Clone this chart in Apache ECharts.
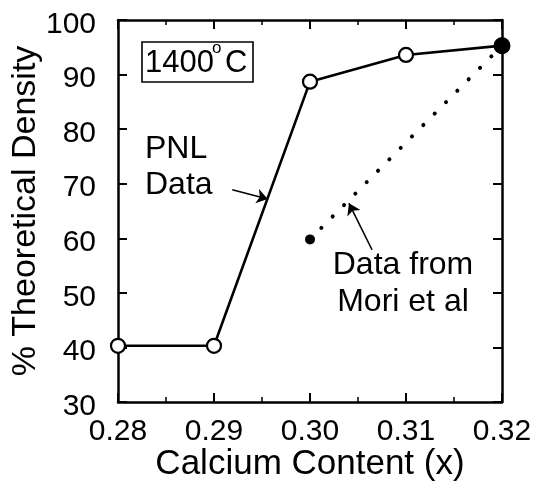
<!DOCTYPE html>
<html>
<head>
<meta charset="utf-8">
<script src="https://cdn.jsdelivr.net/npm/echarts@6/dist/echarts.min.js"></script>
<style>html,body{margin:0;padding:0;background:#fff;}#c{width:539px;height:481px;}</style>
</head>
<body>
<div id="c"></div>
<script>
// Data
const pnlX = [0.28, 0.29, 0.30, 0.31, 0.32];
const pnlY = [40.3, 40.3, 88.7, 93.6, 95.3];
const moriX = [0.30, 0.32];
const moriY = [59.8, 95.3];
const xTicks = [0.28, 0.29, 0.30, 0.31, 0.32];
const yTicks = [30, 40, 50, 60, 70, 80, 90, 100];
// Annotation arrows (data coordinates): [from, to]
const pnlArrow = [[0.2919, 68.9], [0.2956, 67.2]];
const moriArrow = [[0.30646, 57.9], [0.30406, 66.4]];

const FONT = 'Liberation Sans, Arial, Helvetica, sans-serif';
const chart = echarts.init(document.getElementById('c'), null, {renderer: 'canvas'});

const axisLine = {show: true, lineStyle: {color: '#000', width: 2.5}};
function xAx(pos, labels) {
  return {
    type: 'value', position: pos, min: xTicks[0], max: xTicks[xTicks.length - 1], interval: 0.01,
    axisLine: axisLine,
    axisTick: {show: true, inside: true, length: 9, lineStyle: {color: '#000', width: 2}},
    minorTick: {show: true, splitNumber: 2, length: 5, lineStyle: {color: '#000', width: 1.5}},
    splitLine: {show: false},
    axisLabel: labels ? {show: true, margin: 15, color: '#000', fontSize: 30, fontFamily: FONT,
      formatter: v => v.toFixed(2)} : {show: false},
    name: labels ? 'Calcium Content (x)' : '',
    nameLocation: 'middle', nameGap: 45, nameMoveOverlap: false,
    nameTextStyle: {color: '#000', fontSize: 35, fontFamily: FONT}
  };
}
function yAx(pos, labels) {
  return {
    type: 'value', position: pos, min: yTicks[0], max: yTicks[yTicks.length - 1], interval: 10,
    axisLine: axisLine,
    axisTick: {show: true, inside: true, length: 9, lineStyle: {color: '#000', width: 2}},
    splitLine: {show: false},
    axisLabel: labels ? {show: true, margin: 22, color: '#000', fontSize: 30, fontFamily: FONT,
      formatter: v => '{a|' + v + '}',
      rich: {a: {fontSize: 30, fontFamily: FONT, color: '#000', padding: [9, 0, 0, 0]}}} : {show: false},
    name: labels ? '% Theoretical Density' : '',
    nameLocation: 'middle', nameGap: 75, nameRotate: 90, nameMoveOverlap: false,
    nameTextStyle: {color: '#000', fontSize: 34, fontFamily: FONT}
  };
}

const arrowLine = (a) => [{coord: a[0], symbol: 'none'}, {coord: a[1], symbol: 'arrow'}];

chart.setOption({
  animation: false,
  backgroundColor: '#fff',
  grid: {left: 118, right: 37, top: 20, bottom: 79, outerBoundsMode: 'none', containLabel: false},
  xAxis: [xAx('bottom', true), xAx('top', false)],
  yAxis: [yAx('left', true), yAx('right', false)],
  series: [
    {
      name: 'PNL', type: 'line', z: 3,
      data: pnlX.map((x, i) => [x, pnlY[i]]),
      symbol: 'circle', symbolSize: 14,
      itemStyle: {color: '#fff', borderColor: '#000', borderWidth: 2.2},
      lineStyle: {color: '#000', width: 2.6},
      markLine: {
        silent: true, symbolSize: 11, label: {show: false},
        lineStyle: {color: '#000', width: 1.6, type: 'solid'},
        data: [arrowLine(pnlArrow), arrowLine(moriArrow)]
      }
    },
    {
      name: 'Mori', type: 'line', z: 4,
      data: moriX.map((x, i) => [x, moriY[i]]),
      symbol: 'circle', symbolSize: (v, p) => p.dataIndex === 0 ? 10 : 17,
      itemStyle: {color: '#000', borderColor: '#000', borderWidth: 0},
      lineStyle: {color: '#000', width: 4, type: [0.1, 16], cap: 'round'}
    }
  ],
  graphic: [
    {type: 'rect', shape: {x: 142, y: 42, width: 111, height: 40},
      style: {fill: 'none', stroke: '#000', lineWidth: 1.6}},
    {type: 'text', x: 145, y: 48, style: {text: '1400', fontSize: 31, fontFamily: FONT, fill: '#000'}},
    {type: 'text', x: 212, y: 40, style: {text: 'o', fontSize: 17, fontFamily: FONT, fill: '#000'}},
    {type: 'text', x: 225, y: 48, style: {text: 'C', fontSize: 31, fontFamily: FONT, fill: '#000'}},
    {type: 'text', x: 145, y: 131, style: {text: 'PNL\nData', fontSize: 32, lineHeight: 36, fontFamily: FONT, fill: '#000'}},
    {type: 'text', x: 403, y: 247, style: {text: 'Data from\nMori et al', fontSize: 32, lineHeight: 37, fontFamily: FONT, fill: '#000', align: 'center'}}
  ]
});
</script>
</body>
</html>
